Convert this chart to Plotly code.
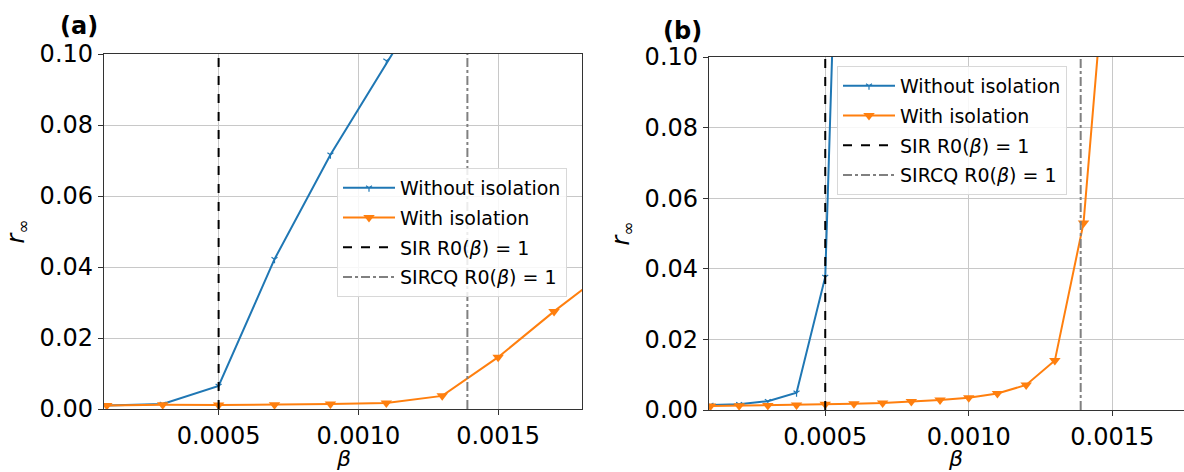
import plotly.graph_objects as go

# ---------------- data ----------------
beta_a = [0.0001, 0.0003, 0.0005, 0.0007, 0.0009, 0.0011, 0.0013, 0.0015, 0.0017, 0.0019]
without_a = [0.0010, 0.0014, 0.0065, 0.0422, 0.0716, 0.0981, 0.1240, 0.1500, 0.1750, 0.2000]
with_a = [0.0010, 0.0012, 0.0011, 0.0012, 0.0014, 0.0017, 0.0037, 0.0146, 0.0275, 0.0395]

beta_b = [0.0001, 0.0002, 0.0003, 0.0004, 0.0005, 0.0006, 0.0007, 0.0008,
          0.0009, 0.0010, 0.0011, 0.0012, 0.0013, 0.0014, 0.0015]
without_b = [0.0014, 0.0016, 0.0025, 0.0049, 0.0377, 0.3000]
with_b = [0.0011, 0.0012, 0.0013, 0.0014, 0.0016, 0.0018, 0.0020, 0.0024,
          0.0028, 0.0035, 0.0047, 0.0071, 0.0140, 0.0530, 0.1500]

sir_beta = 0.0005
sircq_beta = 0.00139
vline_y = [0.0, 0.1]

y_ticks = [0.00, 0.02, 0.04, 0.06, 0.08, 0.10]
x_ticks = [0.0005, 0.0010, 0.0015]

BLUE = "#1f77b4"
ORANGE = "#ff7f0e"
FONT = "DejaVu Sans"

fig = go.Figure()

def add_panel(xa, ya, legend, beta, wo, wi, wo_x):
    fig.add_trace(go.Scatter(
        x=wo_x, y=wo, mode="lines+markers", name="Without isolation",
        line=dict(color=BLUE, width=2),
        marker=dict(symbol="y-down-open", size=5, color=BLUE, line=dict(color=BLUE, width=1.2)),
        xaxis=xa, yaxis=ya, legend=legend, legendgroup=legend + "a"))
    fig.add_trace(go.Scatter(
        x=beta, y=wi, mode="lines+markers", name="With isolation",
        line=dict(color=ORANGE, width=2),
        marker=dict(symbol="triangle-down", size=10, color=ORANGE),
        xaxis=xa, yaxis=ya, legend=legend, legendgroup=legend + "b"))
    fig.add_trace(go.Scatter(
        x=[sir_beta, sir_beta], y=vline_y, mode="lines", name="SIR R0(<i>β</i>) = 1",
        line=dict(color="black", width=2, dash="dash"),
        xaxis=xa, yaxis=ya, legend=legend, legendgroup=legend + "c"))
    fig.add_trace(go.Scatter(
        x=[sircq_beta, sircq_beta], y=vline_y, mode="lines", name="SIRCQ R0(<i>β</i>) = 1",
        line=dict(color="#808080", width=2, dash="dashdot"),
        xaxis=xa, yaxis=ya, legend=legend, legendgroup=legend + "d"))

add_panel("x", "y", "legend", beta_a, without_a, with_a, beta_a[:len(without_a)])
add_panel("x2", "y2", "legend2", beta_b, without_b, with_b, beta_b[:len(without_b)])

axis_common = dict(
    showgrid=True, gridcolor="#c8c8c8", gridwidth=1.2,
    showline=True, linecolor="#333333", linewidth=1.3,
    ticks="outside", ticklen=5, tickcolor="#333333", tickwidth=1.2,
    tickfont=dict(family=FONT, size=24, color="black"),
    zeroline=False, automargin=False,
)

legend_common = dict(
    xanchor="left", yanchor="top",
    bgcolor="rgba(255,255,255,0.85)", bordercolor="#d8d8d8", borderwidth=1,
    font=dict(family=FONT, size=19), tracegroupgap=2, itemwidth=52,
)

fig.update_layout(
    width=1184, height=472,
    margin=dict(l=0, r=0, t=0, b=0),
    paper_bgcolor="white", plot_bgcolor="white",
    font=dict(family=FONT, color="black"),
    xaxis=dict(domain=[104/1184, 582/1184], range=[0.00009, 0.0018],
               tickvals=x_ticks, tickformat=".4f", mirror=True, anchor="y",
               **axis_common),
    yaxis=dict(domain=[1-409/472, 1-54/472], range=[0, 0.1],
               tickvals=y_ticks, tickformat=".2f", mirror=True, anchor="x",
               title=dict(text="<i>r</i><sub>∞</sub>", font=dict(size=24), standoff=8),
               **axis_common),
    xaxis2=dict(domain=[709/1184, 1.0], range=[0.000095, 0.00175],
                tickvals=x_ticks, tickformat=".4f", mirror=True, anchor="y2",
                **axis_common),
    yaxis2=dict(domain=[1-410/472, 1-57/472], range=[0, 0.1],
                tickvals=y_ticks, tickformat=".2f", mirror=False, anchor="x2",
                title=dict(text="<i>r</i><sub>∞</sub>", font=dict(size=24), standoff=8),
                **axis_common),
    legend=dict(x=337/1184, y=1-168/472, **legend_common),
    legend2=dict(x=837/1184, y=1-66/472, **legend_common),
    annotations=[
        dict(text="<b>(a)</b>", x=79/1184, y=1-26/472, xref="paper", yref="paper",
             showarrow=False, font=dict(family=FONT, size=24), xanchor="center", yanchor="middle"),
        dict(text="<b>(b)</b>", x=682/1184, y=1-31/472, xref="paper", yref="paper",
             showarrow=False, font=dict(family=FONT, size=24), xanchor="center", yanchor="middle"),
        dict(text="<i>β</i>", x=343/1184, y=0, xref="paper", yref="paper", yshift=-1,
             showarrow=False, font=dict(family=FONT, size=22), xanchor="center", yanchor="bottom"),
        dict(text="<i>β</i>", x=955/1184, y=0, xref="paper", yref="paper", yshift=-1,
             showarrow=False, font=dict(family=FONT, size=22), xanchor="center", yanchor="bottom"),
    ],
    showlegend=True,
)

fig.write_html("out.html")
